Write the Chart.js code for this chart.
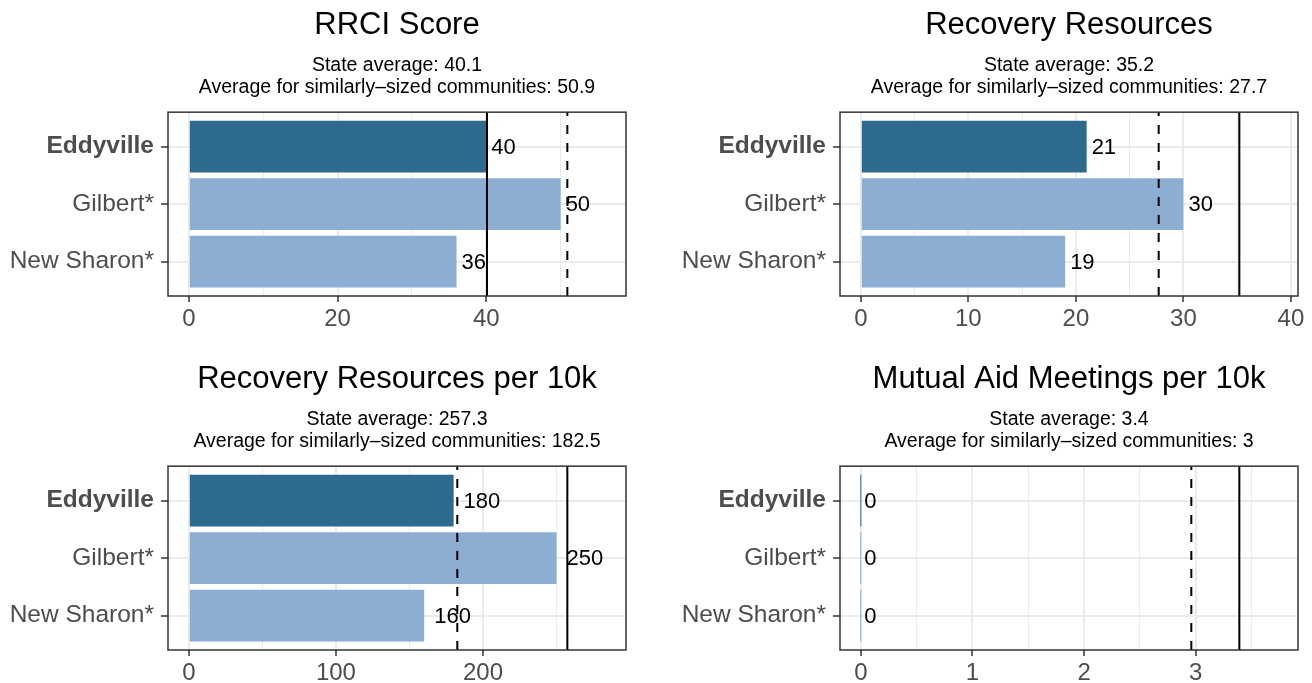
<!DOCTYPE html>
<html>
<head>
<meta charset="utf-8">
<script src="https://cdn.jsdelivr.net/npm/chart.js@4.4.1/dist/chart.umd.min.js"></script>
<style>
  body { margin: 0; background: #fff; }
  #wrap { position: relative; width: 1312px; height: 683px; }
  canvas { position: absolute; }
</style>
</head>
<body>
<div id="wrap">
  <canvas id="c0" width="656" height="341" style="left:0;top:0"></canvas>
  <canvas id="c1" width="656" height="341" style="left:656px;top:0"></canvas>
  <canvas id="c2" width="656" height="342" style="left:0;top:341px"></canvas>
  <canvas id="c3" width="656" height="342" style="left:656px;top:341px"></canvas>
</div>
<script>
// data
const towns = ['Eddyville', 'Gilbert*', 'New Sharon*'];
const titles = ['RRCI Score', 'Recovery Resources', 'Recovery Resources per 10k', 'Mutual Aid Meetings per 10k'];
const rrciScore = [40, 50, 36];
const recoveryResources = [21, 30, 19];
const resourcesPer10k = [180, 250, 160];
const meetingsPer10k = [0, 0, 0];
const stateAvg = [40.1, 35.2, 257.3, 3.39];
const similarAvg = [50.9, 27.7, 182.5, 2.96];
const majorSteps = [20, 10, 100, 1];

const series = [rrciScore, recoveryResources, resourcesPer10k, meetingsPer10k];

// layout of each panel (pixels)
const panels = [
  {yWidth: 168, padRight: 30, padTop: 0, xHeight: 45, labelGap: 5},
  {yWidth: 184, padRight: 14, padTop: 0, xHeight: 45, labelGap: 5},
  {yWidth: 168, padRight: 30, padTop: 13, xHeight: 33, labelGap: 10},
  {yWidth: 184, padRight: 14, padTop: 13, xHeight: 33, labelGap: 3.5}
];

const dark = '#2e6a8e';
const light = '#8daed3';
const gridCol = '#ebebeb';
const axisCol = '#333333';
const textCol = '#4d4d4d';

Chart.defaults.font.family = "'Liberation Sans', Arial, sans-serif";
Chart.defaults.color = textCol;

const fmt = v => String(Number(v.toFixed(1)));

const refPlugin = {
  id: 'refs',
  afterDatasetsDraw(chart, args, opts) {
    const ctx = chart.ctx, a = chart.chartArea, xs = chart.scales.x;
    ctx.save();
    ctx.strokeStyle = '#000';
    ctx.lineWidth = 2;
    // similarly-sized average (dashed)
    ctx.setLineDash([9, 9]);
    let px = xs.getPixelForValue(opts.similar);
    ctx.beginPath(); ctx.moveTo(px, a.bottom); ctx.lineTo(px, a.top); ctx.stroke();
    // state average (solid)
    ctx.setLineDash([]);
    px = xs.getPixelForValue(opts.state);
    ctx.beginPath(); ctx.moveTo(px, a.top); ctx.lineTo(px, a.bottom); ctx.stroke();
    // bar value labels
    ctx.fillStyle = '#000';
    ctx.font = "22px 'Liberation Sans', Arial, sans-serif";
    ctx.textBaseline = 'middle';
    ctx.textAlign = 'left';
    const meta = chart.getDatasetMeta(0);
    meta.data.forEach((bar, i) => {
      const v = chart.data.datasets[0].data[i].x;
      ctx.fillText(String(v), xs.getPixelForValue(v) + opts.gap, bar.y + 1);
    });
    ctx.restore();
  },
  afterDraw(chart) {
    const ctx = chart.ctx, a = chart.chartArea;
    ctx.save();
    ctx.strokeStyle = axisCol;
    ctx.lineWidth = 1.5;
    ctx.strokeRect(a.left, a.top, a.right - a.left, a.bottom - a.top);
    ctx.restore();
  }
};

series.forEach((vals, p) => {
  const lay = panels[p];
  const major = majorSteps[p];
  const minor = major / 2;
  const top = 1.1 * Math.max(...vals, stateAvg[p], similarAvg[p]);
  const isMajor = v => Math.abs(v / major - Math.round(v / major)) < 1e-9;

  new Chart(document.getElementById('c' + p), {
    type: 'bar',
    data: {
      datasets: [{
        data: vals.map((v, i) => ({x: v, y: i})),
        backgroundColor: towns.map((t, i) => i === 0 ? dark : light),
        borderWidth: 0,
        barPercentage: 0.9,
        categoryPercentage: 1,
        minBarLength: 1
      }]
    },
    options: {
      indexAxis: 'y',
      responsive: false,
      animation: false,
      layout: {padding: {left: 0, right: lay.padRight, top: lay.padTop, bottom: 0}},
      scales: {
        x: {
          type: 'linear',
          min: -0.05 * top,
          max: 1.05 * top,
          offset: false,
          afterBuildTicks: s => {
            const t = [];
            for (let v = 0; v <= s.max + 1e-9; v += minor) t.push({value: Math.round(v * 100) / 100});
            s.ticks = t;
          },
          afterFit: s => { s.height = lay.xHeight; },
          border: {display: false},
          grid: {
            offset: false,
            color: gridCol,
            lineWidth: c => (c.tick && isMajor(c.tick.value)) ? 2 : 1,
            tickColor: c => (c.tick && isMajor(c.tick.value)) ? axisCol : 'rgba(0,0,0,0)',
            tickWidth: 1.5,
            tickLength: 6
          },
          ticks: {
            autoSkip: false,
            maxRotation: 0,
            padding: 3,
            color: textCol,
            font: {size: 24},
            callback: v => isMajor(v) ? String(v) : ''
          }
        },
        y: {
          type: 'linear',
          reverse: true,
          min: -0.6,
          max: 2.6,
          offset: false,
          afterBuildTicks: s => { s.ticks = towns.map((t, i) => ({value: i})); },
          afterFit: s => { s.width = lay.yWidth; },
          border: {display: false},
          grid: {
            offset: false,
            color: gridCol,
            lineWidth: 2,
            tickColor: axisCol,
            tickWidth: 1.5,
            tickLength: 7
          },
          ticks: {
            autoSkip: false,
            padding: 7,
            color: textCol,
            font: c => ({size: 24.5, weight: c.index === 0 ? 'bold' : 'normal'}),
            callback: v => towns[v]
          }
        }
      },
      plugins: {
        legend: {display: false},
        tooltip: {enabled: false},
        title: {
          display: true,
          text: titles[p],
          fullSize: false,
          color: '#000',
          font: {size: 31, weight: 'normal', lineHeight: 1.2},
          padding: {top: 7, bottom: 0}
        },
        subtitle: {
          display: true,
          text: ['State average: ' + fmt(stateAvg[p]),
                 'Average for similarly\u2013sized communities: ' + fmt(similarAvg[p])],
          fullSize: false,
          color: '#000',
          font: {size: 19.5, lineHeight: 1.14},
          padding: {top: 10.5, bottom: 13}
        },
        refs: {state: stateAvg[p], similar: similarAvg[p], gap: lay.labelGap}
      }
    },
    plugins: [refPlugin]
  });
});
</script>
</body>
</html>
